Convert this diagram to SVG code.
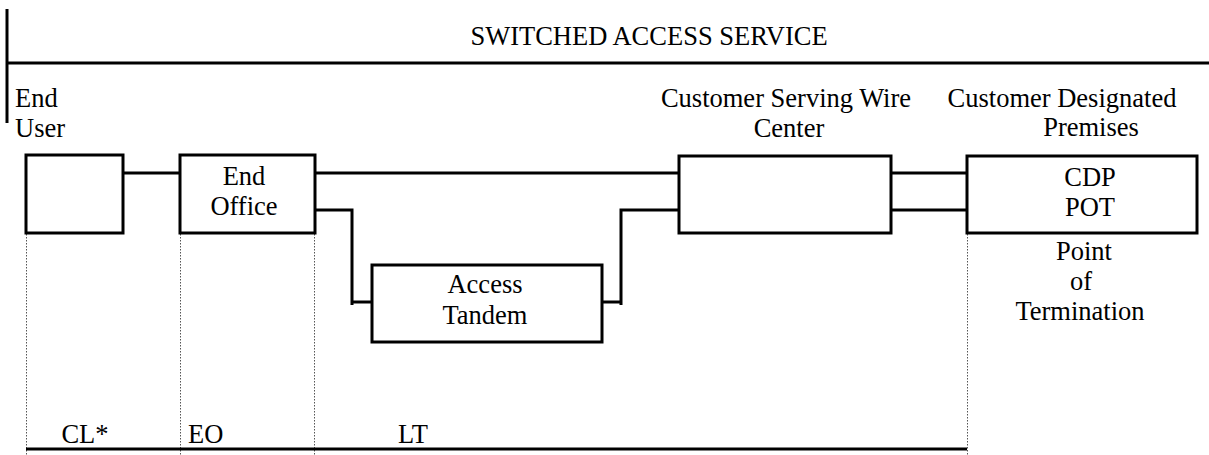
<svg xmlns="http://www.w3.org/2000/svg" width="1209" height="455" viewBox="0 0 1209 455">
<style>
text{font-family:'Liberation Serif','Times New Roman',serif;font-size:26.5px;fill:#000}
.m{text-anchor:middle}
.box{fill:#fff;stroke:#000;stroke-width:3}
.ln{fill:none;stroke:#000;stroke-width:3}
.dot{fill:none;stroke:#555;stroke-width:1;stroke-dasharray:1.5 1.5}
</style>
<rect width="1209" height="455" fill="#fff"/>
<g id="frame">
<line class="ln" x1="7" y1="9" x2="7" y2="123"/>
<line class="ln" x1="7" y1="63" x2="1209" y2="63"/>
<text class="m" x="649" y="45">SWITCHED ACCESS SERVICE</text>
<text x="15" y="107">End</text>
<text x="15" y="137">User</text>
<text class="m" x="786" y="107">Customer Serving Wire</text>
<text class="m" x="789" y="137">Center</text>
<text class="m" x="1062" y="107">Customer Designated</text>
<text class="m" x="1091" y="136">Premises</text>
</g>
<g id="connectors">
<line class="ln" x1="123" y1="173" x2="180" y2="173"/>
<line class="ln" x1="315" y1="173" x2="679" y2="173"/>
<polyline class="ln" points="315,210 352,210 352,305"/>
<line class="ln" x1="352" y1="302" x2="372" y2="302"/>
<polyline class="ln" points="679,210 621,210 621,305"/>
<line class="ln" x1="602" y1="302" x2="621" y2="302"/>
<line class="ln" x1="891" y1="173" x2="967" y2="173"/>
<line class="ln" x1="891" y1="210" x2="967" y2="210"/>
</g>
<g id="guides">
<line class="dot" x1="26.5" y1="234" x2="26.5" y2="455"/>
<line class="dot" x1="180.5" y1="234" x2="180.5" y2="455"/>
<line class="dot" x1="314.5" y1="234" x2="314.5" y2="455"/>
<line class="dot" x1="967.5" y1="234" x2="967.5" y2="455"/>
<line class="ln" x1="26" y1="449" x2="967" y2="449"/>
<text class="m" x="85" y="443">CL*</text>
<text x="188" y="443">EO</text>
<text class="m" x="413" y="443">LT</text>
</g>
<g id="end-user">
<rect class="box" x="26" y="155" width="97" height="78"/>
</g>
<g id="end-office">
<rect class="box" x="180" y="155" width="135" height="78"/>
<text class="m" x="244" y="185">End</text>
<text class="m" x="244" y="215">Office</text>
</g>
<g id="access-tandem">
<rect class="box" x="372" y="265" width="230" height="77"/>
<text class="m" x="485" y="293">Access</text>
<text class="m" x="485" y="324">Tandem</text>
</g>
<g id="cswc">
<rect class="box" x="679" y="156" width="212" height="77"/>
</g>
<g id="cdp">
<rect class="box" x="967" y="156" width="230" height="77"/>
<text class="m" x="1090" y="186">CDP</text>
<text class="m" x="1090" y="216">POT</text>
<text class="m" x="1084" y="260">Point</text>
<text class="m" x="1081" y="290">of</text>
<text class="m" x="1080" y="320">Termination</text>
</g>
</svg>
